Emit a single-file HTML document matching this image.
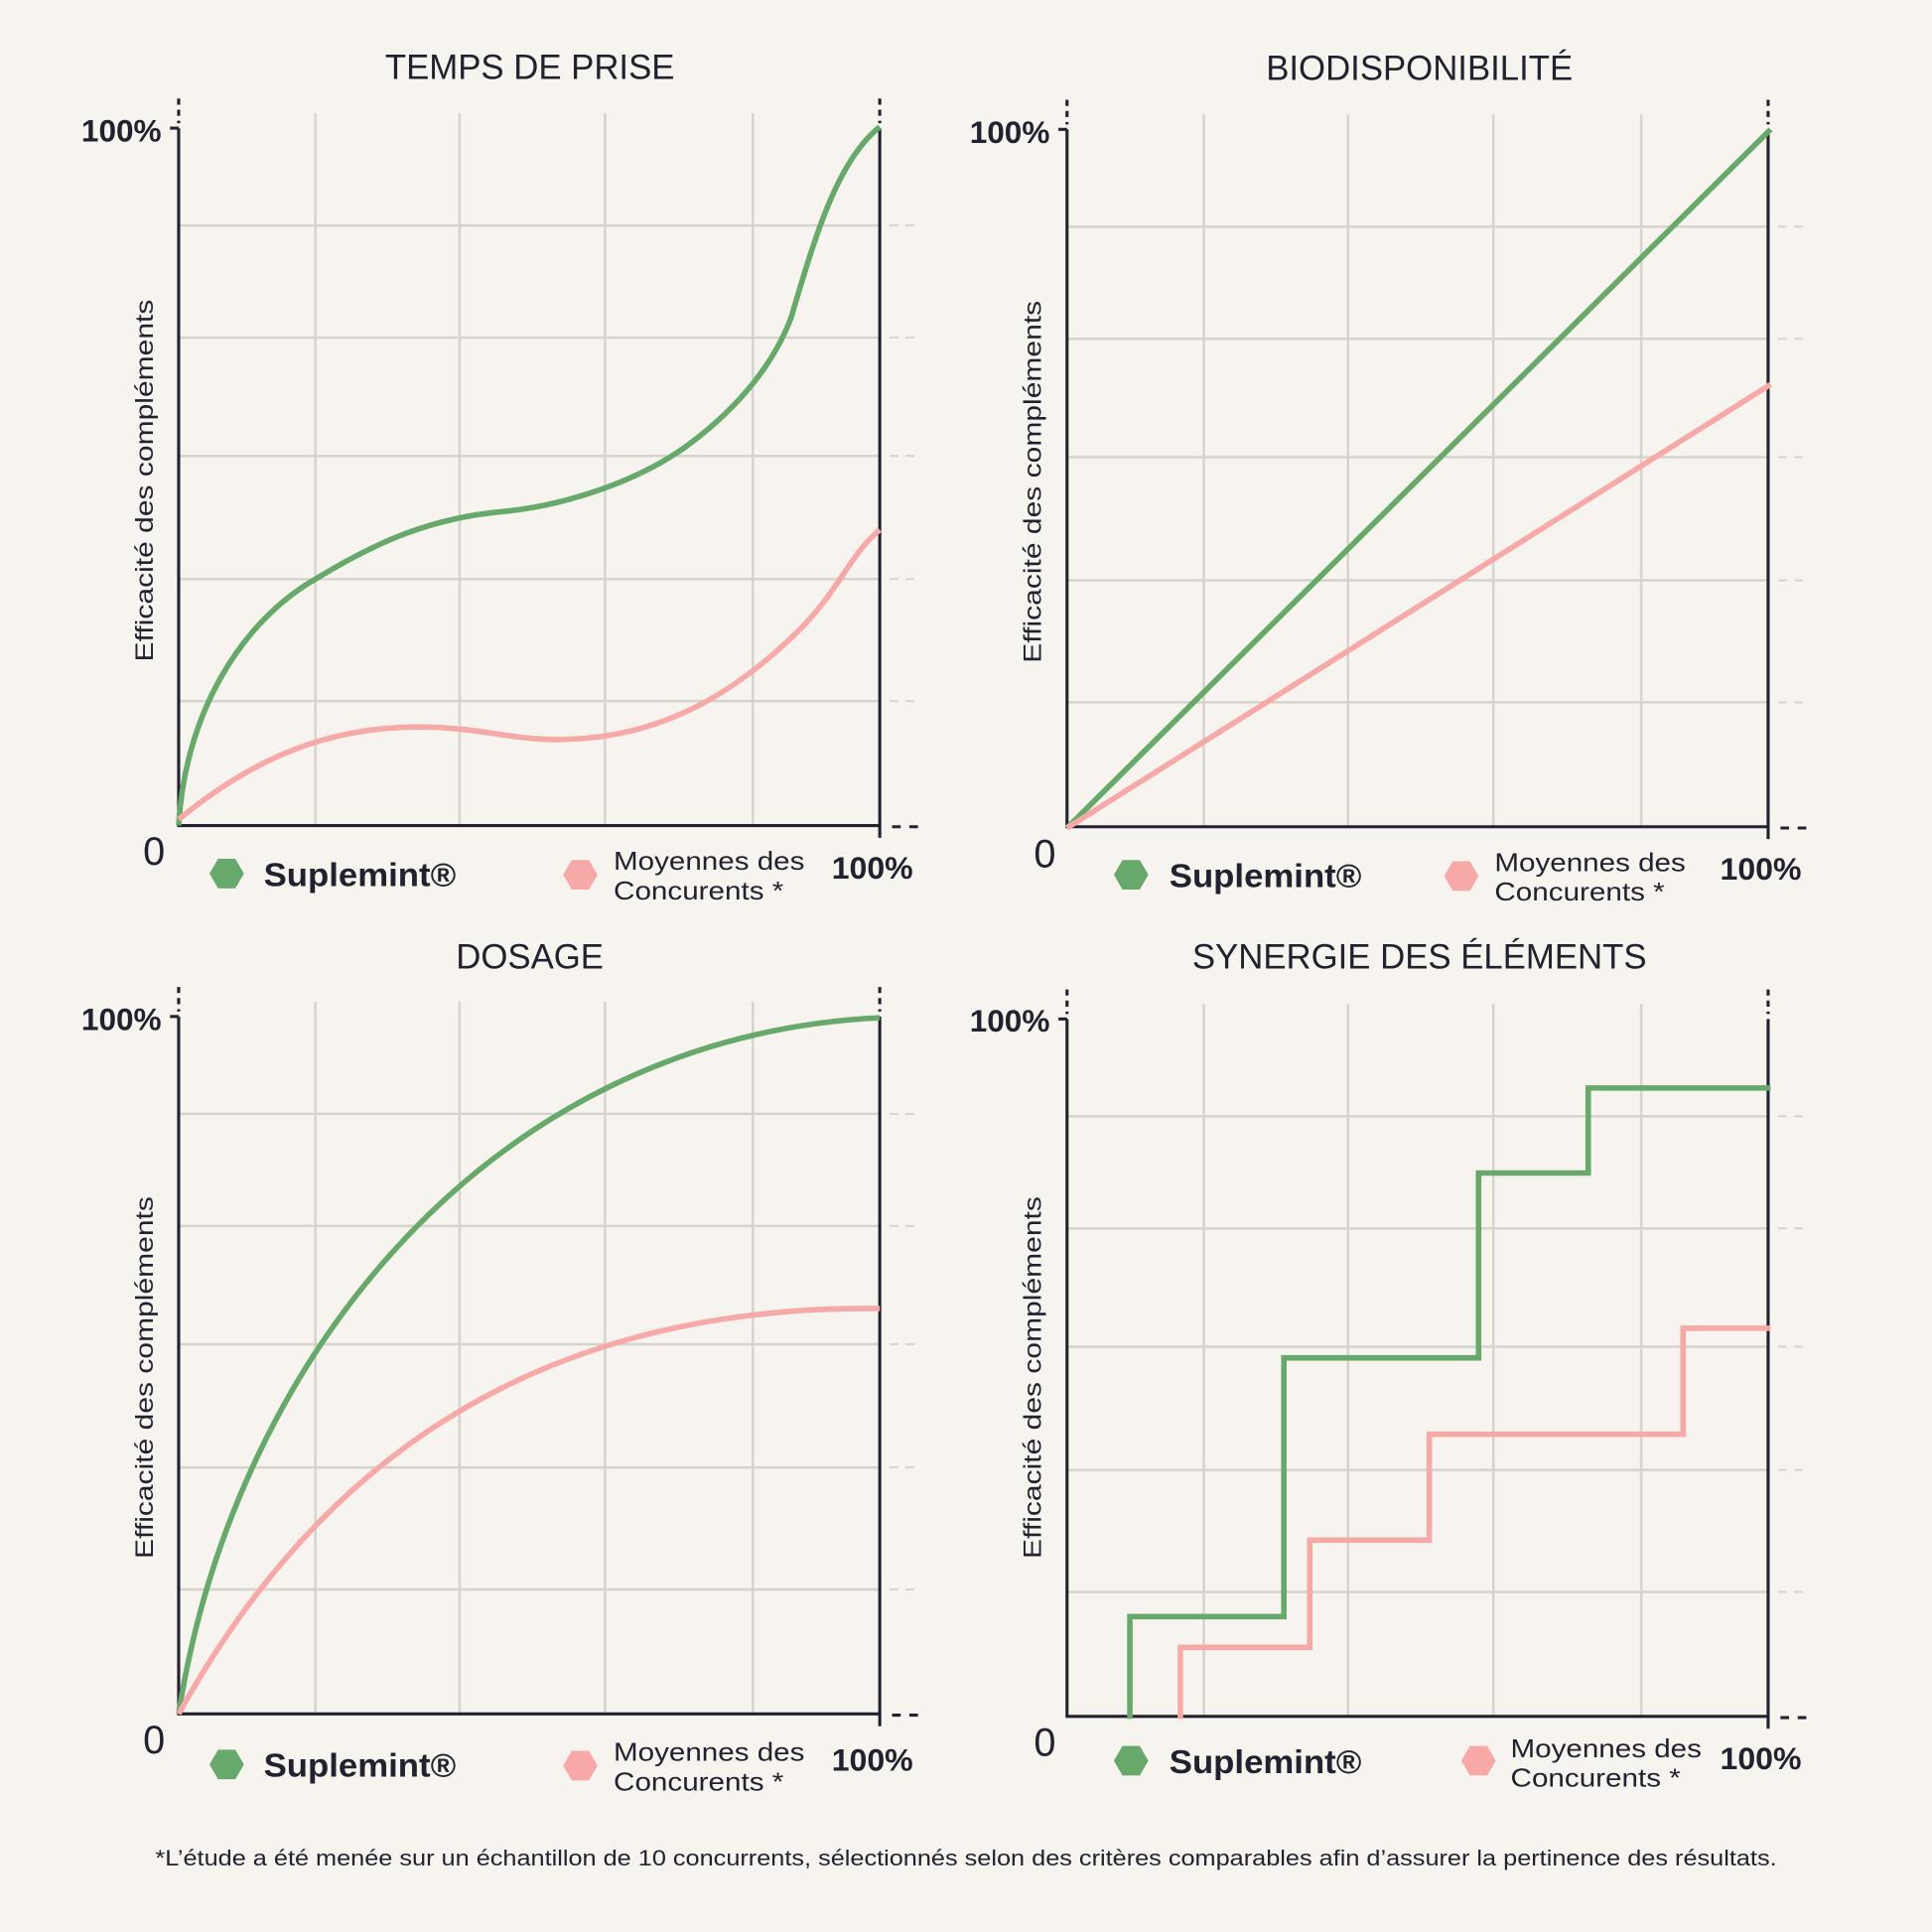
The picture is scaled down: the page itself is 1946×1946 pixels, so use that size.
<!DOCTYPE html>
<html><head><meta charset="utf-8"><style>
html,body{margin:0;padding:0;background:#f7f3ee;}
svg{display:block;}
text{font-family:"Liberation Sans",sans-serif;fill:#22212f;}
</style></head><body>
<svg width="1946" height="1946" viewBox="0 0 1568 1568" xmlns="http://www.w3.org/2000/svg">
<rect width="1568" height="1568" fill="#f7f3ee"/>
<defs>
<g id="frame">
  <g stroke="#d6d2cc" stroke-width="2" fill="none">
    <line x1="256" y1="92" x2="256" y2="670"/>
    <line x1="373" y1="92" x2="373" y2="670"/>
    <line x1="491" y1="92" x2="491" y2="670"/>
    <line x1="611" y1="92" x2="611" y2="670"/>
    <line x1="145" y1="183" x2="714" y2="183"/>
    <line x1="145" y1="274" x2="714" y2="274"/>
    <line x1="145" y1="370" x2="714" y2="370"/>
    <line x1="145" y1="470" x2="714" y2="470"/>
    <line x1="145" y1="569" x2="714" y2="569"/>
  </g>
  <g stroke="#d6d2cc" stroke-width="1.5" stroke-dasharray="7 6">
    <line x1="722" y1="183" x2="748" y2="183"/>
    <line x1="722" y1="274" x2="748" y2="274"/>
    <line x1="722" y1="370" x2="748" y2="370"/>
    <line x1="722" y1="470" x2="748" y2="470"/>
    <line x1="722" y1="569" x2="748" y2="569"/>
  </g>
  <g stroke="#22212f" stroke-width="2.5" fill="none">
    <line x1="145" y1="104" x2="145" y2="671"/>
    <line x1="714" y1="104" x2="714" y2="680"/>
    <line x1="144" y1="670" x2="715" y2="670"/>
    <line x1="138" y1="104" x2="145" y2="104"/>
    <line x1="145" y1="80" x2="145" y2="100" stroke-dasharray="5 4"/>
    <line x1="714" y1="80" x2="714" y2="100" stroke-dasharray="5 4"/>
    <line x1="724" y1="671" x2="748" y2="671" stroke-dasharray="7 7"/>
  </g>
</g>
<polygon id="hex" points="-14,0 -7,-12 7,-12 14,0 7,12 -7,12"/>
</defs>

<!-- Panel TL -->
<use href="#frame"/>
<text x="430" y="64" font-size="28" text-anchor="middle">TEMPS DE PRISE</text>
<text x="131" y="115" font-size="25" font-weight="bold" text-anchor="end" textLength="65" lengthAdjust="spacingAndGlyphs">100%</text>
<text transform="translate(124,390) rotate(-90)" font-size="20" text-anchor="middle" fill="#3a3946" textLength="294" lengthAdjust="spacingAndGlyphs">Efficacité des compléments</text>
<text x="125" y="702" font-size="32" text-anchor="middle">0</text>
<use href="#hex" x="184" y="709" fill="#67a96a"/>
<use href="#hex" x="471" y="710" fill="#f6a9a6"/>
<text x="214" y="719" font-size="27" font-weight="bold" textLength="156" lengthAdjust="spacingAndGlyphs">Suplemint®</text>
<text x="498" y="706" font-size="21" textLength="155" lengthAdjust="spacingAndGlyphs">Moyennes des</text>
<text x="498" y="730" font-size="21" textLength="138" lengthAdjust="spacingAndGlyphs">Concurents *</text>
<text x="708" y="713" font-size="25" font-weight="bold" text-anchor="middle" textLength="66" lengthAdjust="spacingAndGlyphs">100%</text>
<path d="M145,670 C150,580 195,505 256,470 C305,440 350,420 410,415 C460,410 520,390 560,360 C600,330 628,295 642,258 C662,190 680,130 714,103" fill="none" stroke="#67a96a" stroke-width="4.5"/>
<path d="M145,665 C200,620 260,590 340,590 C390,590 420,602 460,600 C540,598 600,560 650,510 C680,480 690,450 714,430" fill="none" stroke="#f6a9a6" stroke-width="4.5"/>

<!-- Panel TR -->
<g transform="translate(721,1)">
<use href="#frame"/>
<text x="431" y="64" font-size="28" text-anchor="middle">BIODISPONIBILITÉ</text>
<text x="131" y="115" font-size="25" font-weight="bold" text-anchor="end" textLength="65" lengthAdjust="spacingAndGlyphs">100%</text>
<text transform="translate(124,390) rotate(-90)" font-size="20" text-anchor="middle" fill="#3a3946" textLength="294" lengthAdjust="spacingAndGlyphs">Efficacité des compléments</text>
<text x="127" y="703" font-size="32" text-anchor="middle">0</text>
<use href="#hex" x="197" y="709" fill="#67a96a"/>
<use href="#hex" x="465" y="710" fill="#f6a9a6"/>
<text x="228" y="719" font-size="27" font-weight="bold" textLength="156" lengthAdjust="spacingAndGlyphs">Suplemint®</text>
<text x="492" y="706" font-size="21" textLength="155" lengthAdjust="spacingAndGlyphs">Moyennes des</text>
<text x="492" y="730" font-size="21" textLength="138" lengthAdjust="spacingAndGlyphs">Concurents *</text>
<text x="708" y="713" font-size="25" font-weight="bold" text-anchor="middle" textLength="66" lengthAdjust="spacingAndGlyphs">100%</text>
<path d="M145,671 L716,104" fill="none" stroke="#67a96a" stroke-width="4.5"/>
<path d="M145,671 L716,311" fill="none" stroke="#f6a9a6" stroke-width="4.5"/>
</g>

<!-- Panel BL -->
<g transform="translate(0,721)">
<use href="#frame"/>
<text x="430" y="65" font-size="28" text-anchor="middle">DOSAGE</text>
<text x="131" y="115" font-size="25" font-weight="bold" text-anchor="end" textLength="65" lengthAdjust="spacingAndGlyphs">100%</text>
<text transform="translate(124,397) rotate(-90)" font-size="20" text-anchor="middle" fill="#3a3946" textLength="294" lengthAdjust="spacingAndGlyphs">Efficacité des compléments</text>
<text x="125" y="702" font-size="32" text-anchor="middle">0</text>
<use href="#hex" x="184" y="711" fill="#67a96a"/>
<use href="#hex" x="471" y="712" fill="#f6a9a6"/>
<text x="214" y="721" font-size="27" font-weight="bold" textLength="156" lengthAdjust="spacingAndGlyphs">Suplemint®</text>
<text x="498" y="708" font-size="21" textLength="155" lengthAdjust="spacingAndGlyphs">Moyennes des</text>
<text x="498" y="732" font-size="21" textLength="138" lengthAdjust="spacingAndGlyphs">Concurents *</text>
<text x="708" y="716" font-size="25" font-weight="bold" text-anchor="middle" textLength="66" lengthAdjust="spacingAndGlyphs">100%</text>
<path d="M145,670 C190,380 400,120 714,105" fill="none" stroke="#67a96a" stroke-width="4.5"/>
<path d="M145,670 C250,480 420,338 714,341" fill="none" stroke="#f6a9a6" stroke-width="4.5"/>
</g>

<!-- Panel BR -->
<g transform="translate(721,723)">
<use href="#frame"/>
<text x="431" y="63" font-size="28" text-anchor="middle">SYNERGIE DES ÉLÉMENTS</text>
<text x="131" y="114" font-size="25" font-weight="bold" text-anchor="end" textLength="65" lengthAdjust="spacingAndGlyphs">100%</text>
<text transform="translate(124,395) rotate(-90)" font-size="20" text-anchor="middle" fill="#3a3946" textLength="294" lengthAdjust="spacingAndGlyphs">Efficacité des compléments</text>
<text x="127" y="702" font-size="32" text-anchor="middle">0</text>
<use href="#hex" x="197" y="706" fill="#67a96a"/>
<use href="#hex" x="479" y="706" fill="#f6a9a6"/>
<text x="228" y="716" font-size="27" font-weight="bold" textLength="156" lengthAdjust="spacingAndGlyphs">Suplemint®</text>
<text x="505" y="703" font-size="21" textLength="155" lengthAdjust="spacingAndGlyphs">Moyennes des</text>
<text x="505" y="727" font-size="21" textLength="138" lengthAdjust="spacingAndGlyphs">Concurents *</text>
<text x="708" y="713" font-size="25" font-weight="bold" text-anchor="middle" textLength="66" lengthAdjust="spacingAndGlyphs">100%</text>
</g>
<path d="M917,1395 V1312 H1042 V1102 H1200 V952 H1289 V883 H1437" fill="none" stroke="#67a96a" stroke-width="4.5"/>
<path d="M958,1395 V1337 H1063 V1250 H1160 V1164 H1366 V1078 H1437" fill="none" stroke="#f6a9a6" stroke-width="4.5"/>

<text x="784" y="1514" font-size="18" text-anchor="middle" textLength="1316" lengthAdjust="spacingAndGlyphs">*L’étude a été menée sur un échantillon de 10 concurrents, sélectionnés selon des critères comparables afin d’assurer la pertinence des résultats.</text>
</svg>
</body></html>
